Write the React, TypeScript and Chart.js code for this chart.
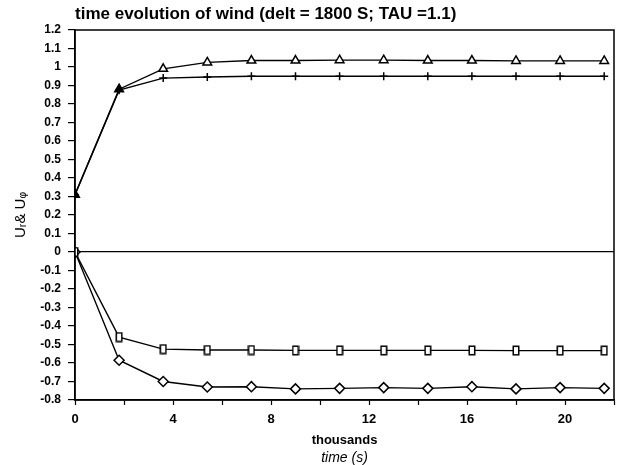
import React, { useEffect, useRef } from 'react';
import { Chart, registerables } from 'chart.js';

Chart.register(...registerables);

const timeThousands = [0, 1.8, 3.6, 5.4, 7.2, 9.0, 10.8, 12.6, 14.4, 16.2, 18.0, 19.8, 21.6];
const seriesTriangle = [0.31, 0.88, 0.99, 1.025, 1.035, 1.035, 1.037, 1.037, 1.035, 1.035, 1.033, 1.033, 1.033];
const seriesPlus = [0.31, 0.875, 0.94, 0.946, 0.95, 0.95, 0.95, 0.95, 0.95, 0.95, 0.95, 0.95, 0.95];
const seriesSquare = [0, -0.46, -0.525, -0.53, -0.53, -0.532, -0.532, -0.532, -0.532, -0.532, -0.533, -0.533, -0.533];
const seriesDiamond = [0, -0.585, -0.7, -0.73, -0.728, -0.74, -0.737, -0.733, -0.737, -0.728, -0.74, -0.733, -0.737];
const titleText = 'time evolution of wind (delt = 1800 S; TAU =1.1)';
const yTitle = 'Uᵣ& Uᵩ';
const xTitleLines = ['thousands', 'time (s)'];

const FONT = "'Liberation Sans', Arial, Helvetica, sans-serif";

function makeRectMarker(): HTMLCanvasElement {
  const c = document.createElement('canvas');
  c.width = 8;
  c.height = 11;
  const g = c.getContext('2d')!;
  g.fillStyle = '#fff';
  g.fillRect(1, 1, 6, 9);
  g.strokeStyle = '#000';
  g.lineWidth = 1.5;
  g.strokeRect(1.25, 1.25, 5.5, 8.5);
  return c;
}

const framePlugin = {
  id: 'frame',
  afterDraw(chart: any) {
    const { ctx, chartArea } = chart;
    ctx.save();
    ctx.strokeStyle = '#000';
    ctx.lineWidth = 1.5;
    ctx.strokeRect(chartArea.left, chartArea.top, chartArea.right - chartArea.left, chartArea.bottom - chartArea.top);
    const cx = (chartArea.left + chartArea.right) / 2;
    ctx.fillStyle = '#000';
    ctx.textAlign = 'center';
    ctx.textBaseline = 'middle';
    ctx.font = `bold 13px ${FONT}`;
    ctx.fillText(xTitleLines[0], cx, chartArea.bottom + 40);
    ctx.font = `italic 14px ${FONT}`;
    ctx.fillText(xTitleLines[1], cx, chartArea.bottom + 58);
    ctx.restore();
  },
};

export default function App() {
  const ref = useRef<HTMLCanvasElement>(null);
  useEffect(() => {
    document.body.style.margin = '0';
    const rectMarker = makeRectMarker();
    const pts = (arr: number[]) => arr.map((v, i) => ({ x: timeThousands[i], y: v }));
    const chart = new Chart(ref.current!, {
      type: 'line',
      data: {
        datasets: [
          {
            data: pts(seriesPlus),
            borderColor: '#000',
            borderWidth: 1.4,
            pointStyle: 'cross',
            pointRadius: 4,
            pointBorderColor: '#000',
            pointBorderWidth: 1.5,
          },
          {
            data: pts(seriesTriangle),
            borderColor: '#000',
            borderWidth: 1.4,
            pointStyle: 'triangle',
            pointRadius: 5,
            pointBackgroundColor: seriesTriangle.map((_, i) => (i < 2 ? '#000' : '#fff')),
            pointBorderColor: '#000',
            pointBorderWidth: 1.5,
          },
          {
            data: pts(seriesSquare),
            borderColor: '#000',
            borderWidth: 1.4,
            pointStyle: rectMarker as any,
            pointRadius: 5,
          },
          {
            data: pts(seriesDiamond),
            borderColor: '#000',
            borderWidth: 1.4,
            pointStyle: 'rectRot',
            pointRadius: 5,
            pointBackgroundColor: '#fff',
            pointBorderColor: '#000',
            pointBorderWidth: 1.5,
          },
        ],
      },
      options: {
        responsive: false,
        animation: false,
        layout: { padding: { left: 0, right: 7, top: 0, bottom: 0 } },
        plugins: {
          legend: { display: false },
          tooltip: { enabled: false },
          title: {
            display: true,
            text: titleText,
            align: 'start',
            fullSize: false,
            color: '#000',
            font: { family: FONT, size: 17, weight: 'bold', lineHeight: 1.2 },
            padding: { top: 4, bottom: 5.6 },
          },
        },
        scales: {
          x: {
            type: 'linear',
            min: 0,
            max: 22,
            afterFit: (scale: any) => {
              scale.height = 65;
            },
            border: { display: true, color: '#000', width: 1.5 },
            grid: {
              color: 'transparent',
              tickColor: '#000',
              tickLength: 5,
              tickWidth: 1.2,
            },
            ticks: {
              stepSize: 2,
              autoSkip: false,
              maxRotation: 0,
              padding: 7,
              color: '#000',
              font: { family: FONT, size: 13, weight: 'bold' },
              callback: (v: any) => (Number(v) % 4 === 0 ? String(v) : ''),
            },
          },
          y: {
            min: -0.8,
            max: 1.2,
            afterFit: (scale: any) => {
              scale.width = 75;
            },
            border: { display: true, color: '#000', width: 1.5 },
            grid: {
              color: (ctx: any) => (ctx.tick && Math.abs(ctx.tick.value) < 1e-9 ? '#000' : 'transparent'),
              lineWidth: 1.2,
              tickColor: '#000',
              tickLength: 7,
              tickWidth: 1.2,
            },
            ticks: {
              stepSize: 0.1,
              autoSkip: false,
              padding: 7,
              color: '#000',
              font: { family: FONT, size: 12, weight: 'bold' },
              callback: (v: any) => String(Number(Number(v).toFixed(1))),
            },
            title: {
              display: true,
              text: yTitle,
              color: '#000',
              font: { family: FONT, size: 15 },
              padding: { top: 12, bottom: 0 },
            },
          },
        },
      },
      plugins: [framePlugin],
    });
    return () => chart.destroy();
  }, []);
  return (
    <div style={{ position: 'fixed', left: 0, top: 0, width: 621, height: 465, background: '#fff' }}>
      <canvas ref={ref} width={621} height={465} />
    </div>
  );
}
